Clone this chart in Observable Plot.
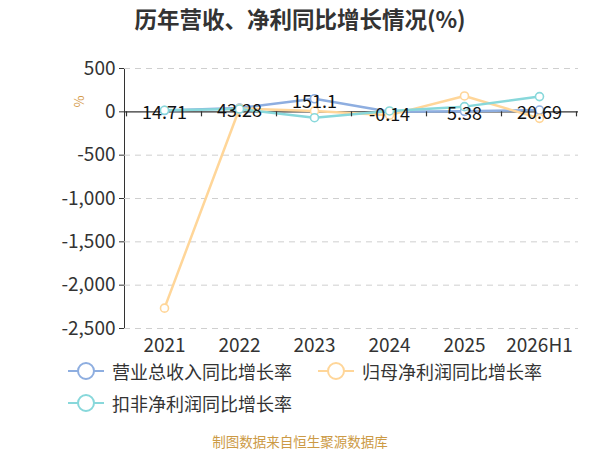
<!DOCTYPE html>
<html><head><meta charset="utf-8">
<script src="https://cdn.jsdelivr.net/npm/d3@7"></script>
<script src="https://cdn.jsdelivr.net/npm/@observablehq/plot@0.6"></script>
<style>
body{margin:0;width:600px;height:450px;position:relative;background:#fff;font-family:"Noto Sans CJK SC","Noto Sans",sans-serif;overflow:hidden}
#title{position:absolute;top:2px;left:0;width:600px;text-align:center;font-size:22.5px;font-weight:bold;color:#333}
#chart{position:absolute;top:40px;left:0}
.leg{position:absolute;display:flex;align-items:center;font-size:18px;color:#333}
.leg svg{margin-right:8px}
#caption{position:absolute;top:431px;left:0;width:600px;text-align:center;font-size:13.5px;color:#cc9a45}
#ylab{position:absolute;left:73px;top:92px;font-size:13px;color:#d49a4a;transform:rotate(-90deg)}
</style></head>
<body>
<div id="title">历年营收、净利同比增长情况(%)</div>
<div id="chart"></div>
<div id="ylab">%</div>
<div id="legend"></div>
<div id="caption">制图数据来自恒生聚源数据库</div>
<script>
const years = ["2021","2022","2023","2024","2025","2026H1"];
const revenueGrowth = [14.71, 43.28, 151.1, -0.14, 5.38, 20.69];
const netProfitGrowth = [-2265, 38, 10, -38, 183, -75];
const deductedProfitGrowth = [18, 32, -68, 10, 60, 176];
const seriesNames = ["营业总收入同比增长率","归母净利润同比增长率","扣非净利润同比增长率"];
const seriesColors = ["#8eaee0","#ffd699","#88d8db"];
const yTicks = [500, 0, -500, -1000, -1500, -2000, -2500];

const allSeries = [revenueGrowth, netProfitGrowth, deductedProfitGrowth];
const rows = [];
allSeries.forEach((vals, s) => vals.forEach((v, i) => rows.push({year: years[i], value: v, series: seriesNames[s]})));
const labelRows = revenueGrowth.map((v, i) => ({year: years[i], value: v}));

const marks = [
  Plot.ruleY(yTicks.filter(d => d !== 0), {stroke: "#cfcfcf", strokeDasharray: "6,5"}),
  Plot.ruleY([0], {stroke: "#333", strokeWidth: 1.2})
];
seriesNames.forEach((name, s) => {
  const data = rows.filter(r => r.series === name);
  marks.push(Plot.line(data, {x: "year", y: "value", stroke: seriesColors[s], strokeWidth: 2.5}));
});
seriesNames.forEach((name, s) => {
  const data = rows.filter(r => r.series === name);
  marks.push(Plot.dot(data, {x: "year", y: "value", r: 4, fill: "#fff", stroke: seriesColors[s], strokeWidth: 1.6}));
});
marks.push(Plot.text(labelRows, {x: "year", y: "value", text: d => String(d.value), fill: "#111", fontSize: 18, dy: 3}));

const plot = Plot.plot({
  width: 600, height: 320,
  marginLeft: 124, marginRight: 22, marginTop: 28, marginBottom: 32,
  style: {fontFamily: '"Noto Sans CJK SC","Noto Sans",sans-serif', fontSize: "19px", color: "#333", background: "transparent", overflow: "visible"},
  x: {type: "point", domain: years, padding: 0.5, label: null, tickSize: 0, tickPadding: 10},
  y: {domain: [-2500, 500], ticks: yTicks, tickFormat: d => d.toLocaleString("en-US"), label: null, line: true, tickSize: 5, tickPadding: 4},
  marks
});
document.getElementById("chart").appendChild(plot);

// boundary tick marks on the zero line
const xs = plot.scale("x"), ys = plot.scale("y");
const pos = years.map(y => xs.apply(y));
const step = (pos[pos.length - 1] - pos[0]) / (pos.length - 1);
const y0 = ys.apply(0);
const bounds = pos.map(p => p - step / 2).concat([pos[pos.length - 1] + step / 2]);
const g = d3.select(plot).append("g");
bounds.forEach(b => g.append("line").attr("x1", b).attr("x2", b).attr("y1", y0).attr("y2", y0 + 5).attr("stroke", "#333").attr("stroke-width", 1.2));

// legend
const legendPos = [[68, 358], [318, 358], [68, 390]];
const legend = document.getElementById("legend");
seriesNames.forEach((name, s) => {
  const div = document.createElement("div");
  div.className = "leg";
  div.style.left = legendPos[s][0] + "px";
  div.style.top = legendPos[s][1] + "px";
  div.innerHTML = `<svg width="36" height="24"><line x1="0" x2="36" y1="12" y2="12" stroke="${seriesColors[s]}" stroke-width="2"/><circle cx="18" cy="12" r="8" fill="#fff" stroke="${seriesColors[s]}" stroke-width="2"/></svg><span>${name}</span>`;
  legend.appendChild(div);
});
</script>
</body></html>
